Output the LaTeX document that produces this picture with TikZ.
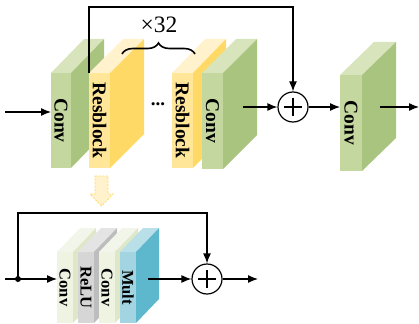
\documentclass[tikz,border=0pt]{standalone}
\usepackage{fontspec}
\setmainfont{Liberation Serif}
\usetikzlibrary{arrows.meta,decorations.pathreplacing}
\definecolor{gF}{HTML}{C4D79E}
\definecolor{gS}{HTML}{A9C47F}
\definecolor{gT}{HTML}{D8E4BC}
\definecolor{yF}{HTML}{FFE699}
\definecolor{yS}{HTML}{FFD966}
\definecolor{yT}{HTML}{FFF2CC}
\definecolor{lF}{HTML}{EEF3E2}
\definecolor{lS}{HTML}{DEE8C8}
\definecolor{lT}{HTML}{F2F6EA}
\definecolor{rF}{HTML}{D6D6D6}
\definecolor{rS}{HTML}{BDBDBD}
\definecolor{rT}{HTML}{E4E4E4}
\definecolor{mF}{HTML}{A3D4E1}
\definecolor{mS}{HTML}{5DB7CD}
\definecolor{mT}{HTML}{B9DFE9}
\definecolor{arrF}{HTML}{FFF2CC}
\definecolor{arrD}{HTML}{FFD966}
\newcommand\slab[9]{%
  \node[slabface, fill=#8F, minimum width=#4pt, minimum height=#5pt, anchor=north west] (#1) at (#2,#3) {};
  \fill[#8T] (#1.north west) -- (#1.north east) -- ++(#6,-#7) -- ++(-#4,0) -- cycle;
  \fill[#8S] (#1.north east) -- (#1.south east) -- ++(#6,-#7) -- ++(0,-#5) -- cycle;
  \node[lbl, rotate=-90] at (#1.center) {#9};
}
\tikzset{
  slabface/.style={rectangle, draw=none, inner sep=0pt, outer sep=0pt},
  lbl/.style={font=\fontsize{19.5}{19.5}\selectfont\bfseries, inner sep=0pt},
  conn/.style={line width=1.2pt},
  arr/.style={line width=1.2pt, -{Latex[length=10pt,width=8pt]}},
  plus/.style={circle, draw, line width=1.2pt, minimum size=30pt, inner sep=0pt},
}
\begin{document}
\begin{tikzpicture}[x=1pt,y=-1pt]
\useasboundingbox (0,0) rectangle (419,323);
% top row
\slab{c1}{51}{73}{20}{95}{33}{34}{g}{Conv}
\slab{r1}{89}{73}{21}{95}{34}{34}{y}{Resblock}
\slab{r2}{172}{73}{21}{95}{33}{34}{y}{Resblock}
\slab{c2}{202}{73}{21}{96}{34}{34}{g}{Conv}
\slab{c3}{340}{75}{22}{96}{34}{33}{g}{Conv}
\node[font=\fontsize{19}{19}\selectfont\bfseries] (dots) at (158,104) {...};
\draw[line width=1.6pt, decorate, decoration={brace, amplitude=11pt}] (122,54) -- (195,54);
\node[font=\fontsize{23.5}{23.5}\selectfont, inner sep=0pt] (times) at (159,25) {×32};
\node[plus] (p1) at (293,107) {};
\draw[line width=1.2pt] (p1.center) ++(-9,0) -- ++(18,0);
\draw[line width=1.2pt] (p1.center) ++(0,-9) -- ++(0,18);
\coordinate (in1) at (5,112);
\draw[arr] (in1) -- (in1 -| c1.west);
\coordinate (fb1) at (293,7);
\draw[arr] (r1.north west) |- (fb1) -- (p1.north);
\coordinate (o2) at (243,107);
\draw[arr] (o2) -- (p1.west);
\draw[arr] (p1.east) -- (p1.east -| c3.west);
\coordinate (o3) at (380,107);
\coordinate (out1) at (419,107);
\draw[arr] (o3) -- (out1);
% yellow dashed arrow
\draw[fill=arrF, draw=arrD, line width=0.8pt, dash pattern=on 2pt off 1.5pt]
  (95,176) -- (108,176) -- (108,194) -- (113,194) -- (101.5,206) -- (90,194) -- (95,194) -- cycle;
% bottom row
\tikzset{lbl/.style={font=\fontsize{16.5}{16.5}\selectfont\bfseries, inner sep=0pt}}
\slab{ca}{57}{252}{16}{71}{23}{24}{l}{Conv}
\slab{cr}{78}{252}{16}{71}{23}{24}{r}{ReLU}
\slab{cb}{99}{252}{16}{71}{23}{24}{l}{Conv}
\slab{cm}{120}{252}{16}{71}{23}{24}{m}{Mult}
\node[plus] (p2) at (207,279) {};
\draw[line width=1.2pt] (p2.center) ++(-9,0) -- ++(18,0);
\draw[line width=1.2pt] (p2.center) ++(0,-9) -- ++(0,18);
\coordinate (in2) at (5,279);
\coordinate (dot) at (18,279);
\draw[arr] (in2) -- (in2 -| ca.west);
\fill (dot) circle (3pt);
\coordinate (fb2) at (207,213);
\draw[arr] (dot) |- (fb2) -- (p2.north);
\coordinate (o4) at (148,279);
\draw[arr] (o4) -- (p2.west);
\coordinate (out2) at (258,279);
\draw[arr] (p2.east) -- (out2);
\end{tikzpicture}
\end{document}
